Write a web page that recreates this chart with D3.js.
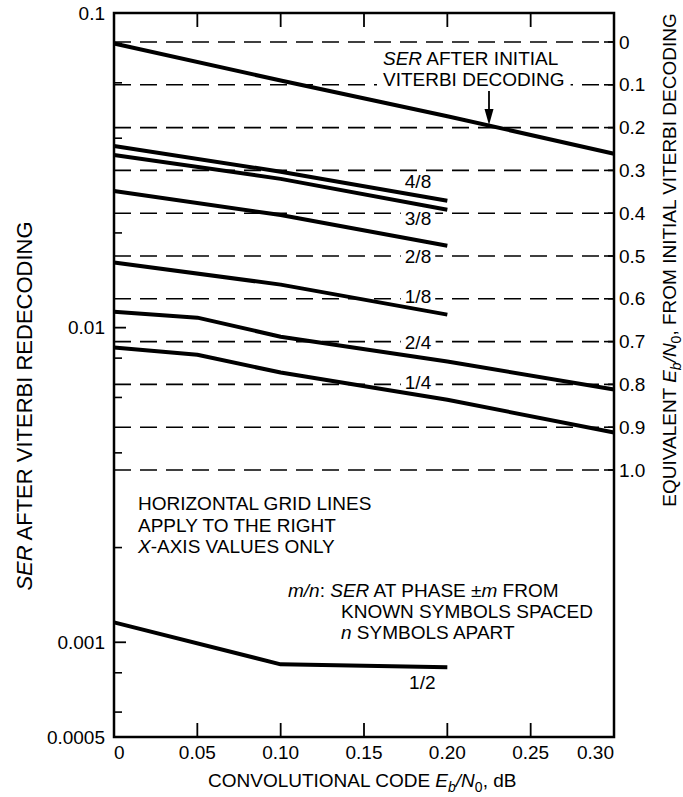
<!DOCTYPE html>
<html>
<head>
<meta charset="utf-8">
<script src="https://cdn.jsdelivr.net/npm/d3@7"></script>
<style>
  body { margin: 0; background: #fff; }
  text { font-family: "Liberation Sans", Arial, sans-serif; fill: #000; }
</style>
</head>
<body>
<script>
// values (x = convolutional code Eb/N0 in dB, y = SER)
var xInitial = [0, 0.10, 0.20, 0.30];
var serInitial = [0.080, 0.061, 0.047, 0.0357];

var xEighths = [0, 0.10, 0.20];
var ser48 = [0.0378, 0.0313, 0.0253];
var ser38 = [0.0354, 0.0297, 0.0237];
var ser28 = [0.0272, 0.0228, 0.0182];
var ser18 = [0.0161, 0.0137, 0.0110];

var xQuarters = [0, 0.05, 0.10, 0.20, 0.30];
var ser24 = [0.01124, 0.01076, 0.00936, 0.0078, 0.00636];
var ser14 = [0.00864, 0.0082, 0.0072, 0.0059, 0.00464];

var xHalf = [0, 0.10, 0.20];
var ser12 = [0.001157, 0.000851, 0.000833];

// curve labels: name, x position, SER position
var labelNames = ["4/8", "3/8", "2/8", "1/8", "2/4", "1/4", "1/2"];
var labelX = [0.1824, 0.1824, 0.1824, 0.1824, 0.1824, 0.1824, 0.185];
var labelSer = [0.0291, 0.0222, 0.0169, 0.01254, 0.00896, 0.00669, 0.000746];

var xTicks = [0, 0.05, 0.10, 0.15, 0.20, 0.25, 0.30];
var xTickLabels = ["0", "0.05", "0.10", "0.15", "0.20", "0.25", "0.30"];
var leftMajor = [0.1, 0.01, 0.001, 0.0005];
var leftMajorLabels = ["0.1", "0.01", "0.001", "0.0005"];
var leftMinor = [0.08, 0.06, 0.04, 0.02, 0.008, 0.006, 0.004, 0.002, 0.0008, 0.0006];
var rightTicks = [0, 0.1, 0.2, 0.3, 0.4, 0.5, 0.6, 0.7, 0.8, 0.9, 1.0];
var rightTickLabels = ["0", "0.1", "0.2", "0.3", "0.4", "0.5", "0.6", "0.7", "0.8", "0.9", "1.0"];

var width = 683, height = 797;
var pLeft = 114, pRight = 614, pTop = 13, pBottom = 737;

var svg = d3.select("body").append("svg")
    .attr("width", width)
    .attr("height", height);

var x = d3.scaleLinear().domain([0, 0.30]).range([pLeft, pRight]);
var y = d3.scaleLog().domain([0.0005, 0.1]).range([pBottom, pTop]);
var yRight = d3.scaleLinear().domain([0, 1.0]).range([42, 470]);

// dashed grid lines belong to the right axis
svg.append("g")
    .selectAll("line")
    .data(rightTicks)
    .enter()
    .append("line")
    .attr("x1", pLeft).attr("x2", pRight)
    .attr("y1", function(d){ return yRight(d); })
    .attr("y2", function(d){ return yRight(d); })
    .attr("stroke", "#000")
    .attr("stroke-width", 1.6)
    .attr("stroke-dasharray", "17,9");

svg.append("g")
    .selectAll("line")
    .data(rightTicks)
    .enter()
    .append("line")
    .attr("x1", pRight - 10).attr("x2", pRight)
    .attr("y1", function(d){ return yRight(d); })
    .attr("y2", function(d){ return yRight(d); })
    .attr("stroke", "#000")
    .attr("stroke-width", 1.6);

// white patches behind texts that sit on grid lines (filled in later)
var bgLayer = svg.append("g");

// frame
svg.append("rect")
    .attr("x", pLeft).attr("y", pTop)
    .attr("width", pRight - pLeft).attr("height", pBottom - pTop)
    .attr("fill", "none")
    .attr("stroke", "#000")
    .attr("stroke-width", 2.5);

// x ticks, bottom and top, pointing inward
var xt = svg.append("g");
xTicks.forEach(function(t, i){
    if (i === 0 || i === xTicks.length - 1) return;
    xt.append("line").attr("x1", x(t)).attr("x2", x(t)).attr("y1", pBottom).attr("y2", pBottom - 14)
        .attr("stroke", "#000").attr("stroke-width", 1.8);
    xt.append("line").attr("x1", x(t)).attr("x2", x(t)).attr("y1", pTop).attr("y2", pTop + 14)
        .attr("stroke", "#000").attr("stroke-width", 1.8);
});
xt.selectAll("text")
    .data(xTicks)
    .enter()
    .append("text")
    .attr("x", function(d){ return x(d); })
    .attr("y", 759)
    .attr("text-anchor", function(d, i){ return i === 0 ? "start" : (i === xTicks.length - 1 ? "end" : "middle"); })
    .style("font-size", "19px")
    .text(function(d, i){ return xTickLabels[i]; });

// left log axis ticks
var yt = svg.append("g");
leftMajor.forEach(function(t){
    yt.append("line").attr("x1", pLeft).attr("x2", pLeft + 12).attr("y1", y(t)).attr("y2", y(t))
        .attr("stroke", "#000").attr("stroke-width", 1.8);
});
leftMinor.forEach(function(t){
    yt.append("line").attr("x1", pLeft).attr("x2", pLeft + 8).attr("y1", y(t)).attr("y2", y(t))
        .attr("stroke", "#000").attr("stroke-width", 1.6);
});
yt.selectAll("text")
    .data(leftMajor)
    .enter()
    .append("text")
    .attr("x", 105)
    .attr("y", function(d){ return y(d); })
    .attr("dy", "0.35em")
    .attr("text-anchor", "end")
    .style("font-size", "19px")
    .text(function(d, i){ return leftMajorLabels[i]; });

// right axis labels
svg.append("g")
    .selectAll("text")
    .data(rightTicks)
    .enter()
    .append("text")
    .attr("x", 619)
    .attr("y", function(d){ return yRight(d); })
    .attr("dy", "0.35em")
    .style("font-size", "19px")
    .text(function(d, i){ return rightTickLabels[i]; });

// curves
var line = d3.line()
    .x(function(d){ return x(d[0]); })
    .y(function(d){ return y(d[1]); });

var series = [
    d3.zip(xInitial, serInitial),
    d3.zip(xEighths, ser48),
    d3.zip(xEighths, ser38),
    d3.zip(xEighths, ser28),
    d3.zip(xEighths, ser18),
    d3.zip(xQuarters, ser24),
    d3.zip(xQuarters, ser14),
    d3.zip(xHalf, ser12)
];

svg.append("g")
    .selectAll("path")
    .data(series)
    .enter()
    .append("path")
    .attr("d", line)
    .attr("fill", "none")
    .attr("stroke", "#000")
    .attr("stroke-width", 4)
    .attr("stroke-linejoin", "round");

// curve labels
var curveLabels = svg.append("g")
    .selectAll("text")
    .data(labelNames)
    .enter()
    .append("text")
    .attr("x", function(d, i){ return x(labelX[i]); })
    .attr("y", function(d, i){ return y(labelSer[i]); })
    .attr("dy", "0.35em")
    .attr("text-anchor", "middle")
    .style("font-size", "19px")
    .text(function(d){ return d; });

// annotation for the top curve
var ann = svg.append("g").style("font-size", "19px");
var t1 = ann.append("text").attr("x", 383).attr("y", 65);
t1.append("tspan").style("font-style", "italic").text("SER");
t1.append("tspan").text(" AFTER INITIAL");
var t2 = ann.append("text").attr("x", 383).attr("y", 86).text("VITERBI DECODING");

var arrowX = 0.225;
ann.append("line")
    .attr("x1", x(arrowX)).attr("x2", x(arrowX))
    .attr("y1", 91).attr("y2", 112)
    .attr("stroke", "#000").attr("stroke-width", 1.8);
ann.append("path")
    .attr("d", "M" + (x(arrowX) - 4.5) + ",109L" + (x(arrowX) + 4.5) + ",109L" + x(arrowX) + ",125Z")
    .attr("fill", "#000");

// break the dashed lines around the texts that sit on them
function patch(node, padX){
    var b = node.getBBox();
    bgLayer.append("rect")
        .attr("x", b.x - padX).attr("y", b.y + 2)
        .attr("width", b.width + 2 * padX).attr("height", b.height - 4)
        .attr("fill", "#fff");
}
curveLabels.each(function(){ patch(this, 4); });
patch(t2.node(), 6);

// grid note
var note = svg.append("g").style("font-size", "19px");
note.append("text").attr("x", 138).attr("y", 510).text("HORIZONTAL GRID LINES");
note.append("text").attr("x", 138).attr("y", 532).text("APPLY TO THE RIGHT");
var n3 = note.append("text").attr("x", 138).attr("y", 553);
n3.append("tspan").style("font-style", "italic").text("X");
n3.append("tspan").text("-AXIS VALUES ONLY");

// m/n key
var k1 = note.append("text").attr("x", 288).attr("y", 597);
k1.append("tspan").style("font-style", "italic").text("m/n");
k1.append("tspan").text(": ");
k1.append("tspan").style("font-style", "italic").text("SER");
k1.append("tspan").text(" AT PHASE \u00b1");
k1.append("tspan").style("font-style", "italic").text("m");
k1.append("tspan").text(" FROM");
note.append("text").attr("x", 341).attr("y", 618).text("KNOWN SYMBOLS SPACED");
var k3 = note.append("text").attr("x", 341).attr("y", 639);
k3.append("tspan").style("font-style", "italic").text("n");
k3.append("tspan").text(" SYMBOLS APART");

// x axis title
var xTitle = svg.append("text")
    .attr("x", 208).attr("y", 787)
    .style("font-size", "19px");
xTitle.append("tspan").text("CONVOLUTIONAL CODE ");
xTitle.append("tspan").style("font-style", "italic").text("E");
xTitle.append("tspan").style("font-style", "italic").style("font-size", "14px").attr("dy", 5).text("b");
xTitle.append("tspan").style("font-style", "italic").attr("dy", -5).text("/N");
xTitle.append("tspan").style("font-size", "14px").attr("dy", 5).text("0");
xTitle.append("tspan").attr("dy", -5).text(", dB");

// left title
var yTitle = svg.append("text")
    .attr("transform", "translate(32,406) rotate(-90)")
    .attr("text-anchor", "middle")
    .style("font-size", "22px");
yTitle.append("tspan").style("font-style", "italic").text("SER");
yTitle.append("tspan").text(" AFTER VITERBI REDECODING");

// right title
var rTitle = svg.append("text")
    .attr("transform", "translate(676,260) rotate(-90)")
    .attr("text-anchor", "middle")
    .style("font-size", "19px");
rTitle.append("tspan").text("EQUIVALENT ");
rTitle.append("tspan").style("font-style", "italic").text("E");
rTitle.append("tspan").style("font-style", "italic").style("font-size", "14px").attr("dy", 5).text("b");
rTitle.append("tspan").style("font-style", "italic").attr("dy", -5).text("/N");
rTitle.append("tspan").style("font-size", "14px").attr("dy", 5).text("0");
rTitle.append("tspan").attr("dy", -5).text(", FROM INITIAL VITERBI DECODING");
</script>
</body>
</html>
